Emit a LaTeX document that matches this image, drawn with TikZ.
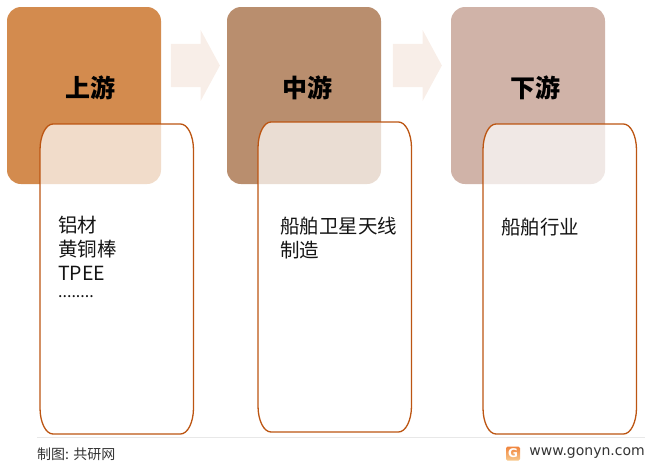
\documentclass[tikz,border=0pt]{standalone}
\usepackage{fontspec}
\setmainfont{Noto Sans CJK SC}
\newfontfamily\webfont{DejaVu Sans}
\usetikzlibrary{shapes.arrows}
\definecolor{upcolor}{HTML}{D38B4E}
\definecolor{midcolor}{HTML}{B98E6E}
\definecolor{downcolor}{HTML}{D0B3A8}
\definecolor{arrowcolor}{HTML}{F8EEE8}
\definecolor{linecolor}{HTML}{BC5512}
\definecolor{rulecolor}{HTML}{E8E8E8}
\definecolor{logotop}{HTML}{F0843C}
\definecolor{logobottom}{HTML}{F8C88C}
\tikzset{
	stagebox/.style={rounded corners=14pt,minimum width=154pt,minimum height=177pt,inner sep=0pt},
	stagename/.style={inner sep=0pt,font=\fontsize{25}{28}\selectfont\bfseries,text=black},
	flowarrow/.style={single arrow,fill=arrowcolor,inner sep=0pt,text height=43pt,text depth=0pt,minimum width=71pt,minimum height=49pt,single arrow head extend=14pt,single arrow tip angle=123},
	itemlist/.style={anchor=north west,align=left,inner sep=0pt,font=\fontsize{19.5}{24}\selectfont,text=black!92},
	footnote/.style={inner sep=0pt,font=\fontsize{14}{16}\selectfont,text=black!80}
}
\begin{document}
\begin{tikzpicture}[x=1pt,y=-1pt]
	\useasboundingbox (0,0) rectangle (654,467);
	
	\node[stagebox,fill=upcolor] (up) at (84,95.5) {};
	\node[stagebox,fill=midcolor] (mid) at (304,95.5) {};
	\node[stagebox,fill=downcolor] (down) at (528,95.5) {};
	\node[stagename] (upname) at (90,88) {上游};
	\node[stagename] (midname) at (307.5,88) {中游};
	\node[stagename] (downname) at (535,88) {下游};
	\node[flowarrow] (a1) at (189.5,65.5) {};
	\node[flowarrow] (a2) at (411.5,65.5) {};
	
	% lower boxes, corners are taller than wide
	\foreach \xa/\ya in {40/124,258/122,483/124}
	\draw[draw=linecolor,line width=1.3pt,fill=white,fill opacity=.7]
		(\xa,\ya+26) arc [x radius=13,y radius=26,start angle=180,end angle=270]
		-- (\xa+140.5,\ya) arc [x radius=13,y radius=26,start angle=270,end angle=360]
		-- (\xa+153.5,\ya+284) arc [x radius=13,y radius=26,start angle=0,end angle=90]
		-- (\xa+13,\ya+310) arc [x radius=13,y radius=26,start angle=90,end angle=180]
		-- cycle;
	
	\node[itemlist] (upitems) at (58,215.5) {铝材\\黄铜棒\\TPEE\\[-7pt]{\fontsize{16}{24}\selectfont ........}};
	\node[itemlist] (miditems) at (280,217) {船舶卫星天线\\制造};
	\node[itemlist] (downitems) at (501,217.5) {船舶行业};
	
	\coordinate (rulea) at (37,437);
	\coordinate (ruleb) at (645,437);
	\draw[rulecolor,line width=1pt] (rulea) -- (ruleb);
	\node[footnote,anchor=west] (source) at (37,454) {制图: 共研网};
	\node[footnote,anchor=east,font=\fontsize{14}{16}\webfont] (site) at (645,453) {www.gonyn.com};
	\node[rounded corners=1.5pt,top color=logotop,bottom color=logobottom,text=white,inner sep=0pt,minimum size=14pt,font=\fontsize{12}{12}\webfont\bfseries] (logo) at (513,453.5) {G};
\end{tikzpicture}
\end{document}
